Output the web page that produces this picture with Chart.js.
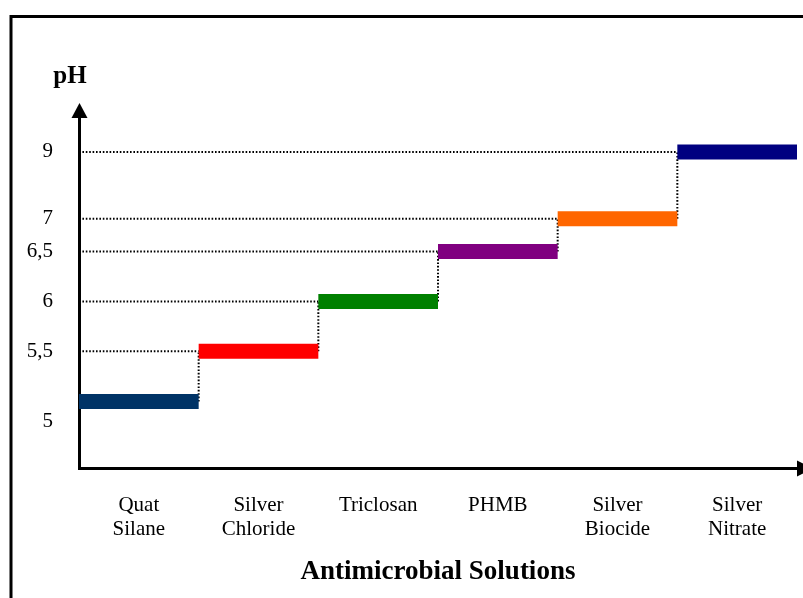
<!DOCTYPE html>
<html lang="en">
<head>
    <meta charset="UTF-8">
    <meta name="viewport" content="width=device-width, initial-scale=1.0">
    <title>pH of antimicrobial solutions</title>
    <script src="https://cdn.jsdelivr.net/npm/chart.js"></script>
    <style>
        body { margin: 0; background: #fff; }
        .chart-box { position: relative; width: 803px; height: 598px; }
    </style>
</head>
<body>
    <div class="chart-box"><canvas id="phChart"></canvas></div>
    <script>
        // values
        const solutions = [['Quat', 'Silane'], ['Silver', 'Chloride'], 'Triclosan', 'PHMB', ['Silver', 'Biocide'], ['Silver', 'Nitrate']];
        const phValues = [5.14, 5.5, 6, 6.5, 7, 9];
        const barColors = ['#003366', '#ff0000', '#008000', '#800080', '#ff6600', '#000080'];
        const phTicks = [5, 5.5, 6, 6.5, 7, 9];

        // the pH axis in the figure is not to scale: stops and the gap drawn between them
        const axisStops = [4.5, 5, 5.5, 6, 6.5, 7, 9, 10];
        const axisGaps = [47, 70, 50, 50, 33, 67, 42];

        const gapTotal = axisGaps.reduce((a, b) => a + b, 0);
        const stopPos = [0];
        axisGaps.forEach(g => stopPos.push(stopPos[stopPos.length - 1] + g / gapTotal));

        function interp(v, xs, ys) {
            for (let i = 1; i < xs.length; i++) {
                if (v <= xs[i] || i === xs.length - 1) {
                    const t = (v - xs[i - 1]) / (xs[i] - xs[i - 1]);
                    return ys[i - 1] + t * (ys[i] - ys[i - 1]);
                }
            }
        }

        // linear scale with a piecewise mapping, ticks only where the figure has them
        class BrokenScale extends Chart.LinearScale {
            static id = 'broken';
            buildTicks() {
                return phTicks.map(v => ({ value: v }));
            }
            getPixelForValue(value) {
                return this.getPixelForDecimal(interp(value, axisStops, stopPos));
            }
            getValueForPixel(pixel) {
                return interp(this.getDecimalForPixel(pixel), stopPos, axisStops);
            }
        }
        Chart.register(BrokenScale);

        const steps = phValues.map((v, i) => ({
            label: Array.isArray(solutions[i]) ? solutions[i].join(' ') : solutions[i],
            data: [{ x: i - 0.5, y: v }, { x: i + 0.5, y: v }],
            borderColor: barColors[i],
            borderWidth: 15,
            borderCapStyle: 'butt',
            pointRadius: 0
        }));

        // dotted guides: from the axis to each step, and the riser from the previous step
        const guides = [];
        phValues.forEach((v, i) => {
            if (i === 0) return;
            const dotted = { borderColor: '#000', borderWidth: 2, borderDash: [1.6, 1.8], pointRadius: 0 };
            guides.push(Object.assign({ data: [{ x: -0.5, y: v }, { x: i - 0.5, y: v }] }, dotted));
            guides.push(Object.assign({ data: [{ x: i - 0.5, y: phValues[i - 1] }, { x: i - 0.5, y: v }] }, dotted));
        });

        const decorations = {
            id: 'decorations',
            beforeDraw(chart) {
                const ctx = chart.ctx;
                ctx.save();
                ctx.strokeStyle = '#000';
                ctx.lineWidth = 3;
                ctx.strokeRect(11, 16.5, 900, 700);
                ctx.restore();
            },
            afterDraw(chart) {
                const ctx = chart.ctx;
                const area = chart.chartArea;
                const ax = area.left + 0.5;
                const ay = area.bottom + 0.5;
                ctx.save();
                ctx.fillStyle = '#000';
                // arrow heads
                ctx.beginPath();
                ctx.moveTo(ax, area.top - 7);
                ctx.lineTo(ax - 8, area.top + 8);
                ctx.lineTo(ax + 8, area.top + 8);
                ctx.closePath();
                ctx.fill();
                ctx.beginPath();
                ctx.moveTo(area.right + 16, ay);
                ctx.lineTo(area.right, ay - 8);
                ctx.lineTo(area.right, ay + 8);
                ctx.closePath();
                ctx.fill();
                // axis name above the arrow
                ctx.font = 'bold 25px "Liberation Serif"';
                ctx.textAlign = 'center';
                ctx.textBaseline = 'alphabetic';
                ctx.fillText('pH', 70, 83);
                ctx.restore();
            }
        };

        new Chart(document.getElementById('phChart'), {
            type: 'line',
            data: { datasets: steps.concat(guides) },
            options: {
                responsive: true,
                maintainAspectRatio: false,
                animation: false,
                layout: { padding: { top: 110, right: 6, left: 0, bottom: 0 } },
                plugins: {
                    legend: { display: false },
                    tooltip: { enabled: false }
                },
                scales: {
                    x: {
                        type: 'linear',
                        min: -0.5,
                        max: 5.5,
                        grid: { display: false, drawTicks: false },
                        border: { color: '#000', width: 3 },
                        afterBuildTicks: s => { s.ticks = solutions.map((_, i) => ({ value: i })); },
                        ticks: {
                            callback: (v, i) => solutions[i],
                            color: '#000',
                            font: { family: 'Liberation Serif', size: 21, lineHeight: 1.15 },
                            padding: 25,
                            maxRotation: 0,
                            autoSkip: false
                        },
                        title: {
                            display: true,
                            text: 'Antimicrobial Solutions',
                            color: '#000',
                            font: { family: 'Liberation Serif', size: 27, weight: 'bold' },
                            padding: { top: 0, bottom: 10 }
                        },
                        afterFit: s => { s.height = 130; }
                    },
                    y: {
                        type: 'broken',
                        min: 4.5,
                        max: 10,
                        grid: { display: false, drawTicks: false },
                        border: { color: '#000', width: 3 },
                        ticks: {
                            callback: v => String(v).replace('.', ','),
                            color: '#000',
                            font: { family: 'Liberation Serif', size: 21 },
                            padding: 26
                        },
                        afterFit: s => { s.width = 79; }
                    }
                }
            },
            plugins: [decorations]
        });
    </script>
</body>
</html>
